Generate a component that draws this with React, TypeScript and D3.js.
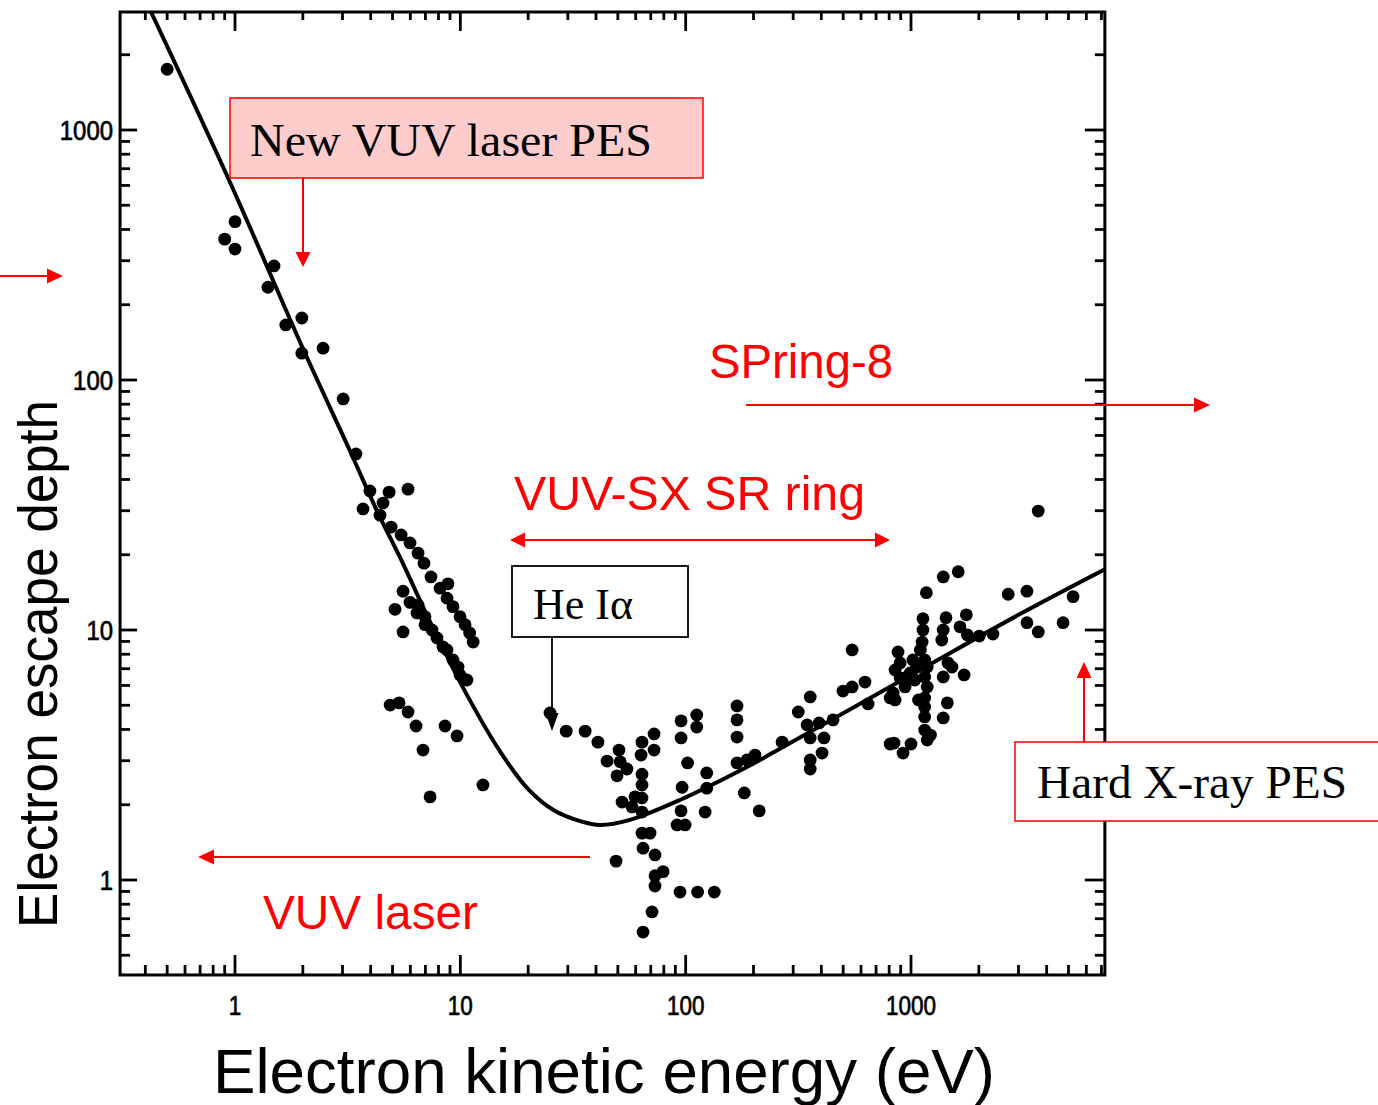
import React from "react";
import * as d3 from "d3";

// ---------- data ----------
// universal curve: electron kinetic energy (eV) vs escape depth
const curveEnergy = [0.424, 0.95, 2.0, 3.24, 4.3, 5.4, 7.56, 10.7, 15, 20, 26, 34, 41.7, 56.6, 94.4, 187, 262, 1000, 3000, 7250];
const curveDepth = [2965, 618, 134, 52, 29.5, 19.5, 10.2, 5.5, 3.27, 2.31, 1.9, 1.72, 1.66, 1.74, 2.09, 2.83, 3.35, 6.6, 11.5, 17.5];

// measured points [energy (eV), depth]
const dotsSteep = [
  [0.5, 1750], [0.9, 366], [1.0, 430], [1.0, 334], [1.4, 235], [1.49, 286], [1.68, 166],
  [1.98, 177], [1.98, 128], [2.46, 134], [3.02, 84], [3.44, 50.6],
];
const dotsUpperBranch = [
  [3.7, 30.5], [3.97, 36.0], [4.83, 35.6], [5.86, 36.6], [4.54, 32.2], [4.4, 28.8], [4.93, 25.8],
  [5.46, 24.0], [5.98, 22.3], [6.49, 20.3], [6.9, 18.5], [7.41, 16.3], [8.82, 15.3], [8.13, 14.7],
  [8.73, 13.4], [9.28, 12.4], [9.97, 11.3], [10.5, 10.5], [11.0, 9.73], [11.4, 8.95],
];
const dotsLowerBranch = [
  [5.57, 14.3], [5.98, 12.9], [6.49, 12.6], [5.13, 12.1], [6.42, 11.7], [6.97, 11.3], [6.97, 10.5],
  [7.49, 10.0], [5.57, 9.82], [7.88, 9.29], [8.38, 8.55], [8.73, 8.32], [9.28, 7.59], [9.77, 7.11],
  [9.97, 6.61], [10.7, 6.31],
];
const dotsLowScatter = [
  [4.88, 5.01], [5.35, 5.11], [5.86, 4.7], [6.36, 4.13], [8.55, 4.13], [9.67, 3.77], [6.83, 3.31],
  [12.6, 2.4], [7.34, 2.15],
];
const dotsMinimum = [
  [25.0, 4.66], [29.5, 3.94], [35.8, 3.94], [40.8, 3.56], [50.6, 3.31], [44.8, 2.99], [51.2, 2.97],
  [54.9, 2.78], [49.6, 2.61], [64.0, 3.56], [72.4, 3.84], [72.4, 3.31], [63.4, 3.16], [64.0, 2.65],
  [64.0, 2.4], [64.0, 2.13], [59.6, 2.15], [52.2, 2.05], [57.8, 1.96], [64.0, 1.87], [64.0, 1.54],
  [69.5, 1.54], [64.7, 1.34], [73.1, 1.26], [49.1, 1.19], [79.4, 1.08], [73.1, 1.04], [73.1, 0.946],
  [94.4, 0.895], [113, 0.895], [134, 0.895], [70.9, 0.745], [64.7, 0.619], [95.4, 4.33], [112, 4.57],
  [112, 4.09], [95.4, 3.7], [102, 2.94], [124, 2.68], [124, 2.33], [96.4, 2.35], [95.4, 1.89],
  [91.6, 1.66], [99.4, 1.66], [122, 1.87],
];
const dotsRising = [
  [169, 4.97], [169, 4.37], [169, 3.73], [169, 2.94], [182, 2.23], [212, 1.89], [203, 3.16],
  [187, 3.02], [268, 3.56], [316, 4.7], [357, 5.4], [346, 4.17], [357, 3.7], [391, 4.25], [411, 3.7],
  [403, 3.22], [357, 3.02], [357, 2.78], [451, 4.37], [548, 8.32], [499, 5.7], [548, 5.92],
  [625, 6.19], [645, 5.06], [808, 5.35], [808, 3.5],
];
const dotsHigh = [
  [1170, 14.1], [1390, 16.3], [1620, 17.1], [2700, 13.9], [3270, 14.3], [5240, 13.6], [4730, 10.7],
  [3270, 10.7], [3670, 9.82], [2310, 9.64], [2010, 9.46], [1760, 11.5], [1650, 10.3], [1780, 9.55],
  [1720, 6.61], [1430, 11.2], [1390, 10.0], [1370, 9.12], [1460, 7.38], [1390, 6.49], [1450, 5.11],
  [1390, 4.45], [1130, 11.1], [1130, 10.0], [1120, 8.95], [1100, 8.32], [1150, 7.59], [1180, 7.11],
  [1150, 6.49], [1180, 5.92], [1150, 5.35], [1150, 4.92], [1150, 4.49], [1150, 3.98], [1180, 3.63],
  [1220, 3.8], [876, 8.17], [895, 7.38], [850, 6.92], [961, 6.49], [941, 5.92], [833, 5.6],
  [850, 5.25], [991, 6.73], [1020, 7.59], [841, 3.53], [922, 3.22], [1000, 3.5], [1520, 7.11],
  [3670, 29.9], [1040, 6.31], [1080, 5.25], [895, 6.43], [1060, 7.13],
];

const xTickLabels = ["1", "10", "100", "1000"];
const yTickLabels = ["1", "10", "100", "1000"];
const xDomain = [0.309, 7250];
const yDomain = [0.417, 2965];

const SANS = "'Liberation Sans', Arial, Helvetica, sans-serif";
const SERIF = "'Liberation Serif', 'Times New Roman', serif";
const RED = "#ff0000";

function Arrow({ x1, y1, x2, y2, color, len = 16, wid = 15, sw = 2, both = false }) {
  const dx = x2 - x1, dy = y2 - y1;
  const L = Math.hypot(dx, dy);
  const ux = dx / L, uy = dy / L;
  const px = -uy, py = ux;
  const head = (tx, ty, dirx, diry) => {
    const bx = tx - dirx * len, by = ty - diry * len;
    return `${tx},${ty} ${bx + px * wid / 2},${by + py * wid / 2} ${bx - px * wid / 2},${by - py * wid / 2}`;
  };
  const sx = both ? x1 + ux * (len - 2) : x1;
  const sy = both ? y1 + uy * (len - 2) : y1;
  return (
    <g>
      <line x1={sx} y1={sy} x2={x2 - ux * (len - 2)} y2={y2 - uy * (len - 2)} stroke={color} strokeWidth={sw} />
      <polygon points={head(x2, y2, ux, uy)} fill={color} />
      {both && <polygon points={head(x1, y1, -ux, -uy)} fill={color} />}
    </g>
  );
}

export default function App() {
  const W = 1378, H = 1105;
  const x = d3.scaleLog().domain([1, 1000]).range([235, 911]);
  const y = d3.scaleLog().domain([1, 1000]).range([880, 130]);
  const left = x(xDomain[0]);
  const right = x(xDomain[1]);
  const bottom = y(yDomain[0]);
  const top = y(yDomain[1]);

  const xTicks = d3.scaleLog().domain(xDomain).ticks();
  const yTicks = d3.scaleLog().domain(yDomain).ticks();
  const isMajor = (v) => Math.abs(Math.log10(v) - Math.round(Math.log10(v))) < 1e-6;
  const xMajor = xTicks.filter(isMajor);
  const yMajor = yTicks.filter(isMajor);

  const curvePts = curveEnergy.map((e, i) => [e, curveDepth[i]]);
  const linePath = d3
    .line()
    .x((d) => x(d[0]))
    .y((d) => y(d[1]))
    .curve(d3.curveCatmullRom.alpha(0.5))(curvePts);

  const allDots = [
    ...dotsSteep, ...dotsUpperBranch, ...dotsLowerBranch, ...dotsLowScatter,
    ...dotsMinimum, ...dotsRising, ...dotsHigh,
  ];

  return (
    <svg width={W} height={H} style={{ position: "absolute", left: 0, top: 0, display: "block", background: "#fff" }}>
      <defs>
        <clipPath id="frame">
          <rect x={left} y={top} width={right - left} height={bottom - top} />
        </clipPath>
      </defs>
      <rect x={0} y={0} width={W} height={H} fill="#fff" />

      {/* ticks */}
      <g stroke="#000" strokeWidth={2.8}>
        {xTicks.map((t, i) => {
          const m = isMajor(t);
          return (
            <g key={"xt" + i}>
              <line x1={x(t)} x2={x(t)} y1={bottom} y2={bottom - (m ? 20 : 10)} />
              <line x1={x(t)} x2={x(t)} y1={top} y2={top + (m ? 19 : 8)} />
            </g>
          );
        })}
        {yTicks.map((t, i) => {
          const m = isMajor(t);
          return (
            <g key={"yt" + i}>
              <line x1={left} x2={left + (m ? 17 : 10)} y1={y(t)} y2={y(t)} />
              <line x1={right} x2={right - (m ? 20 : 10)} y1={y(t)} y2={y(t)} />
            </g>
          );
        })}
      </g>

      {/* frame */}
      <rect x={left} y={top} width={right - left} height={bottom - top} fill="none" stroke="#000" strokeWidth={3} />

      {/* tick labels */}
      <g fontFamily={SANS} fontSize={27} fill="#000" stroke="#000" strokeWidth={0.7}>
        {xMajor.map((t, i) => (
          <text key={"xl" + i} x={x(t)} y={1015} textAnchor="middle"
            textLength={xTickLabels[i].length * 12.5} lengthAdjust="spacingAndGlyphs">
            {xTickLabels[i]}
          </text>
        ))}
        {yMajor.map((t, i) => (
          <text key={"yl" + i} x={113} y={y(t) + 10} textAnchor="end"
            textLength={yTickLabels[i].length * 13.3} lengthAdjust="spacingAndGlyphs">
            {yTickLabels[i]}
          </text>
        ))}
      </g>

      {/* curve + dots */}
      <g clipPath="url(#frame)">
        <path d={linePath} fill="none" stroke="#000" strokeWidth={4} strokeLinejoin="round" />
        {allDots.map((d, i) => (
          <circle key={"d" + i} cx={x(d[0])} cy={y(d[1])} r={6.4} fill="#000" />
        ))}
      </g>

      {/* axis titles */}
      <text x={213} y={1093} fontFamily={SANS} fontSize={63} textLength={782} lengthAdjust="spacingAndGlyphs">
        Electron kinetic energy (eV)
      </text>
      <text transform="translate(57,928) rotate(-90)" fontFamily={SANS} fontSize={55} textLength={528}
        lengthAdjust="spacingAndGlyphs">
        Electron escape depth
      </text>

      {/* New VUV laser PES */}
      <rect x={230} y={98} width={473} height={80} fill="#ffcccc" stroke={RED} strokeWidth={1.5} />
      <text x={250} y={156} fontFamily={SERIF} fontSize={46} textLength={402} lengthAdjust="spacingAndGlyphs">
        New VUV laser PES
      </text>
      <Arrow x1={303} y1={178} x2={303} y2={267} color={RED} len={15} wid={15} />
      <Arrow x1={0} y1={276} x2={63} y2={276} color={RED} len={16} wid={15} />

      {/* SPring-8 */}
      <text x={709} y={378} fontFamily={SANS} fontSize={48} fill={RED} textLength={184} lengthAdjust="spacingAndGlyphs">
        SPring-8
      </text>
      <Arrow x1={746} y1={405} x2={1210} y2={405} color={RED} len={16} wid={15} />

      {/* VUV-SX SR ring */}
      <text x={514} y={510} fontFamily={SANS} fontSize={48} fill={RED} textLength={351} lengthAdjust="spacingAndGlyphs">
        VUV-SX SR ring
      </text>
      <Arrow x1={510} y1={540} x2={890} y2={540} color={RED} len={15} wid={15} both />

      {/* He I alpha */}
      <rect x={512} y={566} width={176} height={71} fill="#fff" stroke="#000" strokeWidth={1.8} />
      <text x={533} y={619} fontFamily={SERIF} fontSize={44} textLength={100} lengthAdjust="spacingAndGlyphs">
        He Iα
      </text>
      <Arrow x1={552} y1={637} x2={552} y2={731} color="#000" len={18} wid={13} sw={1.8} />

      {/* VUV laser */}
      <Arrow x1={590} y1={857} x2={198} y2={857} color={RED} len={16} wid={15} />
      <text x={263} y={929} fontFamily={SANS} fontSize={48} fill={RED} textLength={215} lengthAdjust="spacingAndGlyphs">
        VUV laser
      </text>

      {/* Hard X-ray PES */}
      <rect x={1015} y={742} width={400} height={79} fill="#fff" stroke={RED} strokeWidth={1.5} />
      <text x={1037} y={798} fontFamily={SERIF} fontSize={46} textLength={310} lengthAdjust="spacingAndGlyphs">
        Hard X-ray PES
      </text>
      <Arrow x1={1084} y1={742} x2={1084} y2={662} color={RED} len={16} wid={15} />
    </svg>
  );
}
